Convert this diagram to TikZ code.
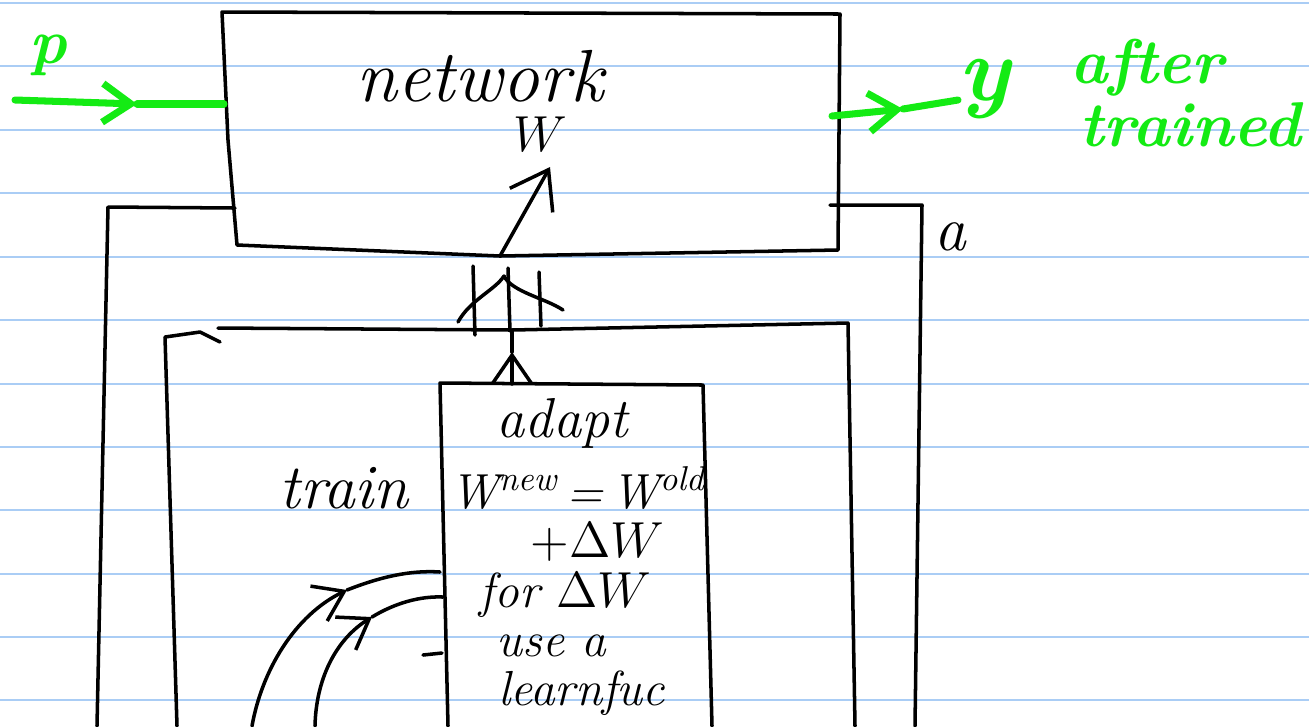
\documentclass[tikz,border=0pt]{standalone}
\usepackage{amsmath}
\usetikzlibrary{arrows.meta}
\definecolor{handgreen}{RGB}{20,235,20}
\definecolor{rulingblue}{RGB}{170,205,245}

\begin{document}
\begin{tikzpicture}[x=0.01cm, y=-0.01cm,
    ink/.style={line width=1pt, line cap=round, line join=round},
    gink/.style={draw=handgreen, line width=2pt, line cap=round, line join=round},
    ruling/.style={draw=rulingblue, line width=0.6pt},
    hand/.style={font=\itshape\fontsize{18}{20}\selectfont, inner sep=0pt},
    ghand/.style={text=handgreen, font=\bfseries\itshape\fontsize{18}{20}\selectfont, inner sep=0pt},
    barb/.style={-{Straight Barb[length=8pt,width=11pt]}}]

% paper
\fill[white] (0,0) rectangle (1309,726);
\useasboundingbox (0,0) rectangle (1309,726);
\foreach \y in {3,66,130,193,257,320,384,447,510,574,637,700}
    \draw[ruling] (0,\y) -- (1309,\y);

% network
\coordinate (ntl) at (222,12);
\coordinate (ntr) at (840,14);
\coordinate (nbr) at (838,250);
\coordinate (nb) at (500,256);
\coordinate (nbl) at (237,245);
\draw[ink] (ntl) -- (ntr) -- (nbr) -- (nb) -- (nbl) -- (228,140) -- cycle;
\node[hand, font=\itshape\fontsize{21}{22}\selectfont] (net) at (480,76) {network};
\node[hand, font=\fontsize{14}{15}\selectfont] (wnet) at (540,134) {$W$};
\coordinate (wtip) at (550,167);
\draw[ink, -{Straight Barb[length=10pt,width=14pt]}] (nb) -- (wtip);

% input p
\node[ghand] (p) at (48,55) {p};
\coordinate (pin) at (15,100);
\coordinate (pmid) at (137,104);
\coordinate (pend) at (224,104);
\draw[gink, barb] (pin) -- (pmid);
\draw[gink] (pmid) -- (pend);

% output y
\coordinate (yin) at (832,116);
\coordinate (ymid) at (903,109);
\node[ghand, anchor=base west, font=\bfseries\itshape\fontsize{26}{28}\selectfont] (y) at (958,100) {y};
\draw[gink, barb] (yin) -- (ymid);
\draw[gink] (ymid) -- (y.base west);
\node[ghand] (after) at (1147,68) {after};
\node[ghand] (trained) at (1190,125) {trained};

% train loop
\coordinate (nl) at (235,208);
\coordinate (olt) at (108,207);
\coordinate (olb) at (97,726);
\coordinate (nr) at (830,205);
\coordinate (ort) at (922,205);
\coordinate (orb) at (915,726);
\draw[ink] (nl) -- (olt) -- (olb);
\draw[ink] (nr) -- (ort) -- (orb);
\node[hand] (a) at (950,237) {a};
\node[hand] (train) at (344,488) {train};

% middle loop
\coordinate (mtl) at (165,337);
\coordinate (mlt) at (218,328);
\coordinate (mtop) at (512,330);
\coordinate (mtr) at (848,323);
\draw[ink] (177,726) -- (mtl) -- (200,332) -- (220,342);
\draw[ink] (mlt) -- (mtop) -- (mtr) -- (855,726);

% weights going up
\foreach \x/\a/\b in {473/266/335, 508/268/331, 539/272/326}
    \draw[ink] (\x,\a) -- (\x+2,\b);
\draw[ink] (458,322) .. controls (470,300) and (495,290) .. (504,276)
    .. controls (512,292) and (545,298) .. (563,310);

% adapt box
\coordinate (atop) at (512,384);
\coordinate (amid) at (512,352);
\draw[ink, barb] (atop) -- (amid);
\draw[ink] (amid) -- (mtop);
\draw[ink] (448,726) -- (440,383) -- (703,385) -- (712,726);
\draw[ink] (423,655) -- (442,653);
\node[hand, anchor=north, align=center, font=\itshape\fontsize{14}{14}\selectfont] (adapt) at (578,398)
    {{\fontsize{16}{14}\selectfont adapt}\kern9pt\\[4pt]
     W\textsuperscript{new}\,=\,W\textsuperscript{old}\\
     \kern11pt$+\Delta W$\\
     for $\Delta W$\kern7pt\\
     use a\kern15pt\\
     \kern2pt learnfuc};

% learning function arrows
\coordinate (b1) at (440,572);
\coordinate (c1) at (347,590);
\coordinate (b2) at (443,597);
\coordinate (c2) at (372,617);
\draw[ink, barb] (252,726) .. controls (262,670) and (295,615) .. (c1);
\draw[ink] (c1) .. controls (380,577) and (410,570) .. (b1);
\draw[ink, barb] (315,726) .. controls (316,680) and (335,640) .. (c2);
\draw[ink] (c2) .. controls (395,603) and (420,596) .. (b2);
\end{tikzpicture}
\end{document}
